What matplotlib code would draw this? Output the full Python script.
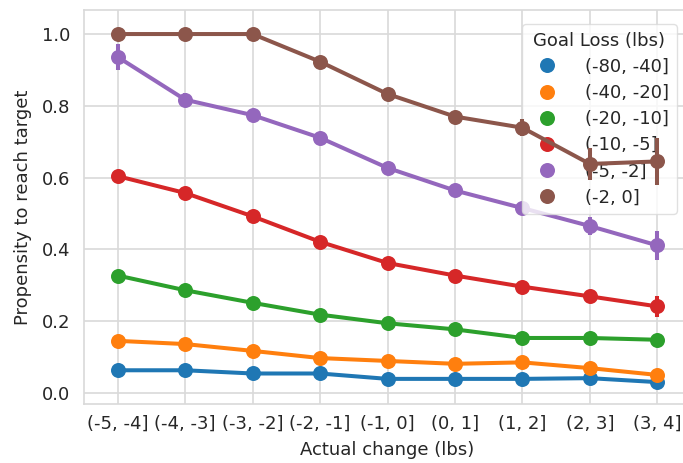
import numpy as np
import matplotlib
matplotlib.use('Agg')
import matplotlib.pyplot as plt
from matplotlib.lines import Line2D
import seaborn as sns

sns.set_style('whitegrid')

#Categories and values
change_bins = ['(-5, -4]', '(-4, -3]', '(-3, -2]', '(-2, -1]', '(-1, 0]',
               '(0, 1]', '(1, 2]', '(2, 3]', '(3, 4]']
goal_bins = ['(-80, -40]', '(-40, -20]', '(-20, -10]', '(-10, -5]', '(-5, -2]', '(-2, 0]']

p_80_40 = [0.063, 0.063, 0.054, 0.054, 0.039, 0.039, 0.039, 0.041, 0.030]
p_40_20 = [0.145, 0.136, 0.117, 0.097, 0.089, 0.081, 0.085, 0.069, 0.050]
p_20_10 = [0.327, 0.286, 0.251, 0.218, 0.194, 0.177, 0.153, 0.153, 0.148]
p_10_5 = [0.604, 0.557, 0.492, 0.421, 0.362, 0.327, 0.296, 0.269, 0.241]
p_5_2 = [0.936, 0.817, 0.774, 0.711, 0.627, 0.564, 0.515, 0.465, 0.411]
p_2_0 = [1.000, 1.000, 1.000, 0.923, 0.833, 0.770, 0.739, 0.638, 0.645]

#half width of the error bars
e_80_40 = [0.005, 0.005, 0.004, 0.004, 0.004, 0.004, 0.004, 0.005, 0.005]
e_40_20 = [0.006, 0.006, 0.005, 0.005, 0.005, 0.005, 0.006, 0.007, 0.008]
e_20_10 = [0.008, 0.007, 0.006, 0.006, 0.006, 0.006, 0.007, 0.009, 0.011]
e_10_5 = [0.012, 0.009, 0.008, 0.008, 0.008, 0.008, 0.010, 0.016, 0.030]
e_5_2 = [0.035, 0.020, 0.012, 0.010, 0.010, 0.011, 0.016, 0.025, 0.040]
e_2_0 = [0.000, 0.000, 0.000, 0.010, 0.010, 0.014, 0.024, 0.045, 0.065]

series = [p_80_40, p_40_20, p_20_10, p_10_5, p_5_2, p_2_0]
errors = [e_80_40, e_40_20, e_20_10, e_10_5, e_5_2, e_2_0]
colors = sns.color_palette('tab10', 6)

font_size = 13
line_width = 2.9
marker_size = 10.8

fig = plt.figure(figsize=(6.83, 4.63), dpi=100)
ax = fig.add_axes([84/683., 59/463., 607/683., 394/463.])

x = np.arange(len(change_bins))
for j in range(len(series)):
	y = np.array(series[j])
	e = np.array(errors[j])
	ax.vlines(x, y - e, y + e, color=colors[j], linewidth=line_width, zorder=j+1)
	ax.plot(x, y, '-', color=colors[j], linewidth=line_width, zorder=j+1)
	ax.plot(x, y, 'o', color=colors[j], markersize=marker_size, markeredgewidth=0, zorder=j+1)

ax.set_xlim(-0.5, 8.5)
ax.set_ylim(-0.031, 1.067)
ax.set_xticks(x)
ax.set_xticklabels(change_bins)
ax.set_yticks([0.0, 0.2, 0.4, 0.6, 0.8, 1.0])
ax.tick_params(axis='both', labelsize=font_size, colors='#262626', length=0)
ax.tick_params(axis='x', pad=8)
ax.tick_params(axis='y', pad=10)
ax.set_xlabel('Actual change (lbs)', fontsize=font_size, color='#262626', labelpad=6)
ax.set_ylabel('Propensity to reach target', fontsize=font_size, color='#262626', labelpad=7)
ax.grid(color='#d9d9d9', linewidth=1.2)
for s in ax.spines.values():
	s.set_color('#d9d9d9')
	s.set_linewidth(1.2)

handles = [Line2D([], [], linestyle='none', marker='o', color=c, markersize=marker_size, markeredgewidth=0) for c in colors]
leg = ax.legend(handles, goal_bins, title='Goal Loss (lbs)', loc='upper right',
                fontsize=font_size, title_fontsize=font_size, handletextpad=1.1,
                labelspacing=0.45, framealpha=0.8, edgecolor='#d9d9d9', borderaxespad=0.8)
leg.set_zorder(5)
for t in leg.get_texts():
	t.set_color('#262626')
leg.get_title().set_color('#262626')

plt.savefig('out.png', dpi=100)
